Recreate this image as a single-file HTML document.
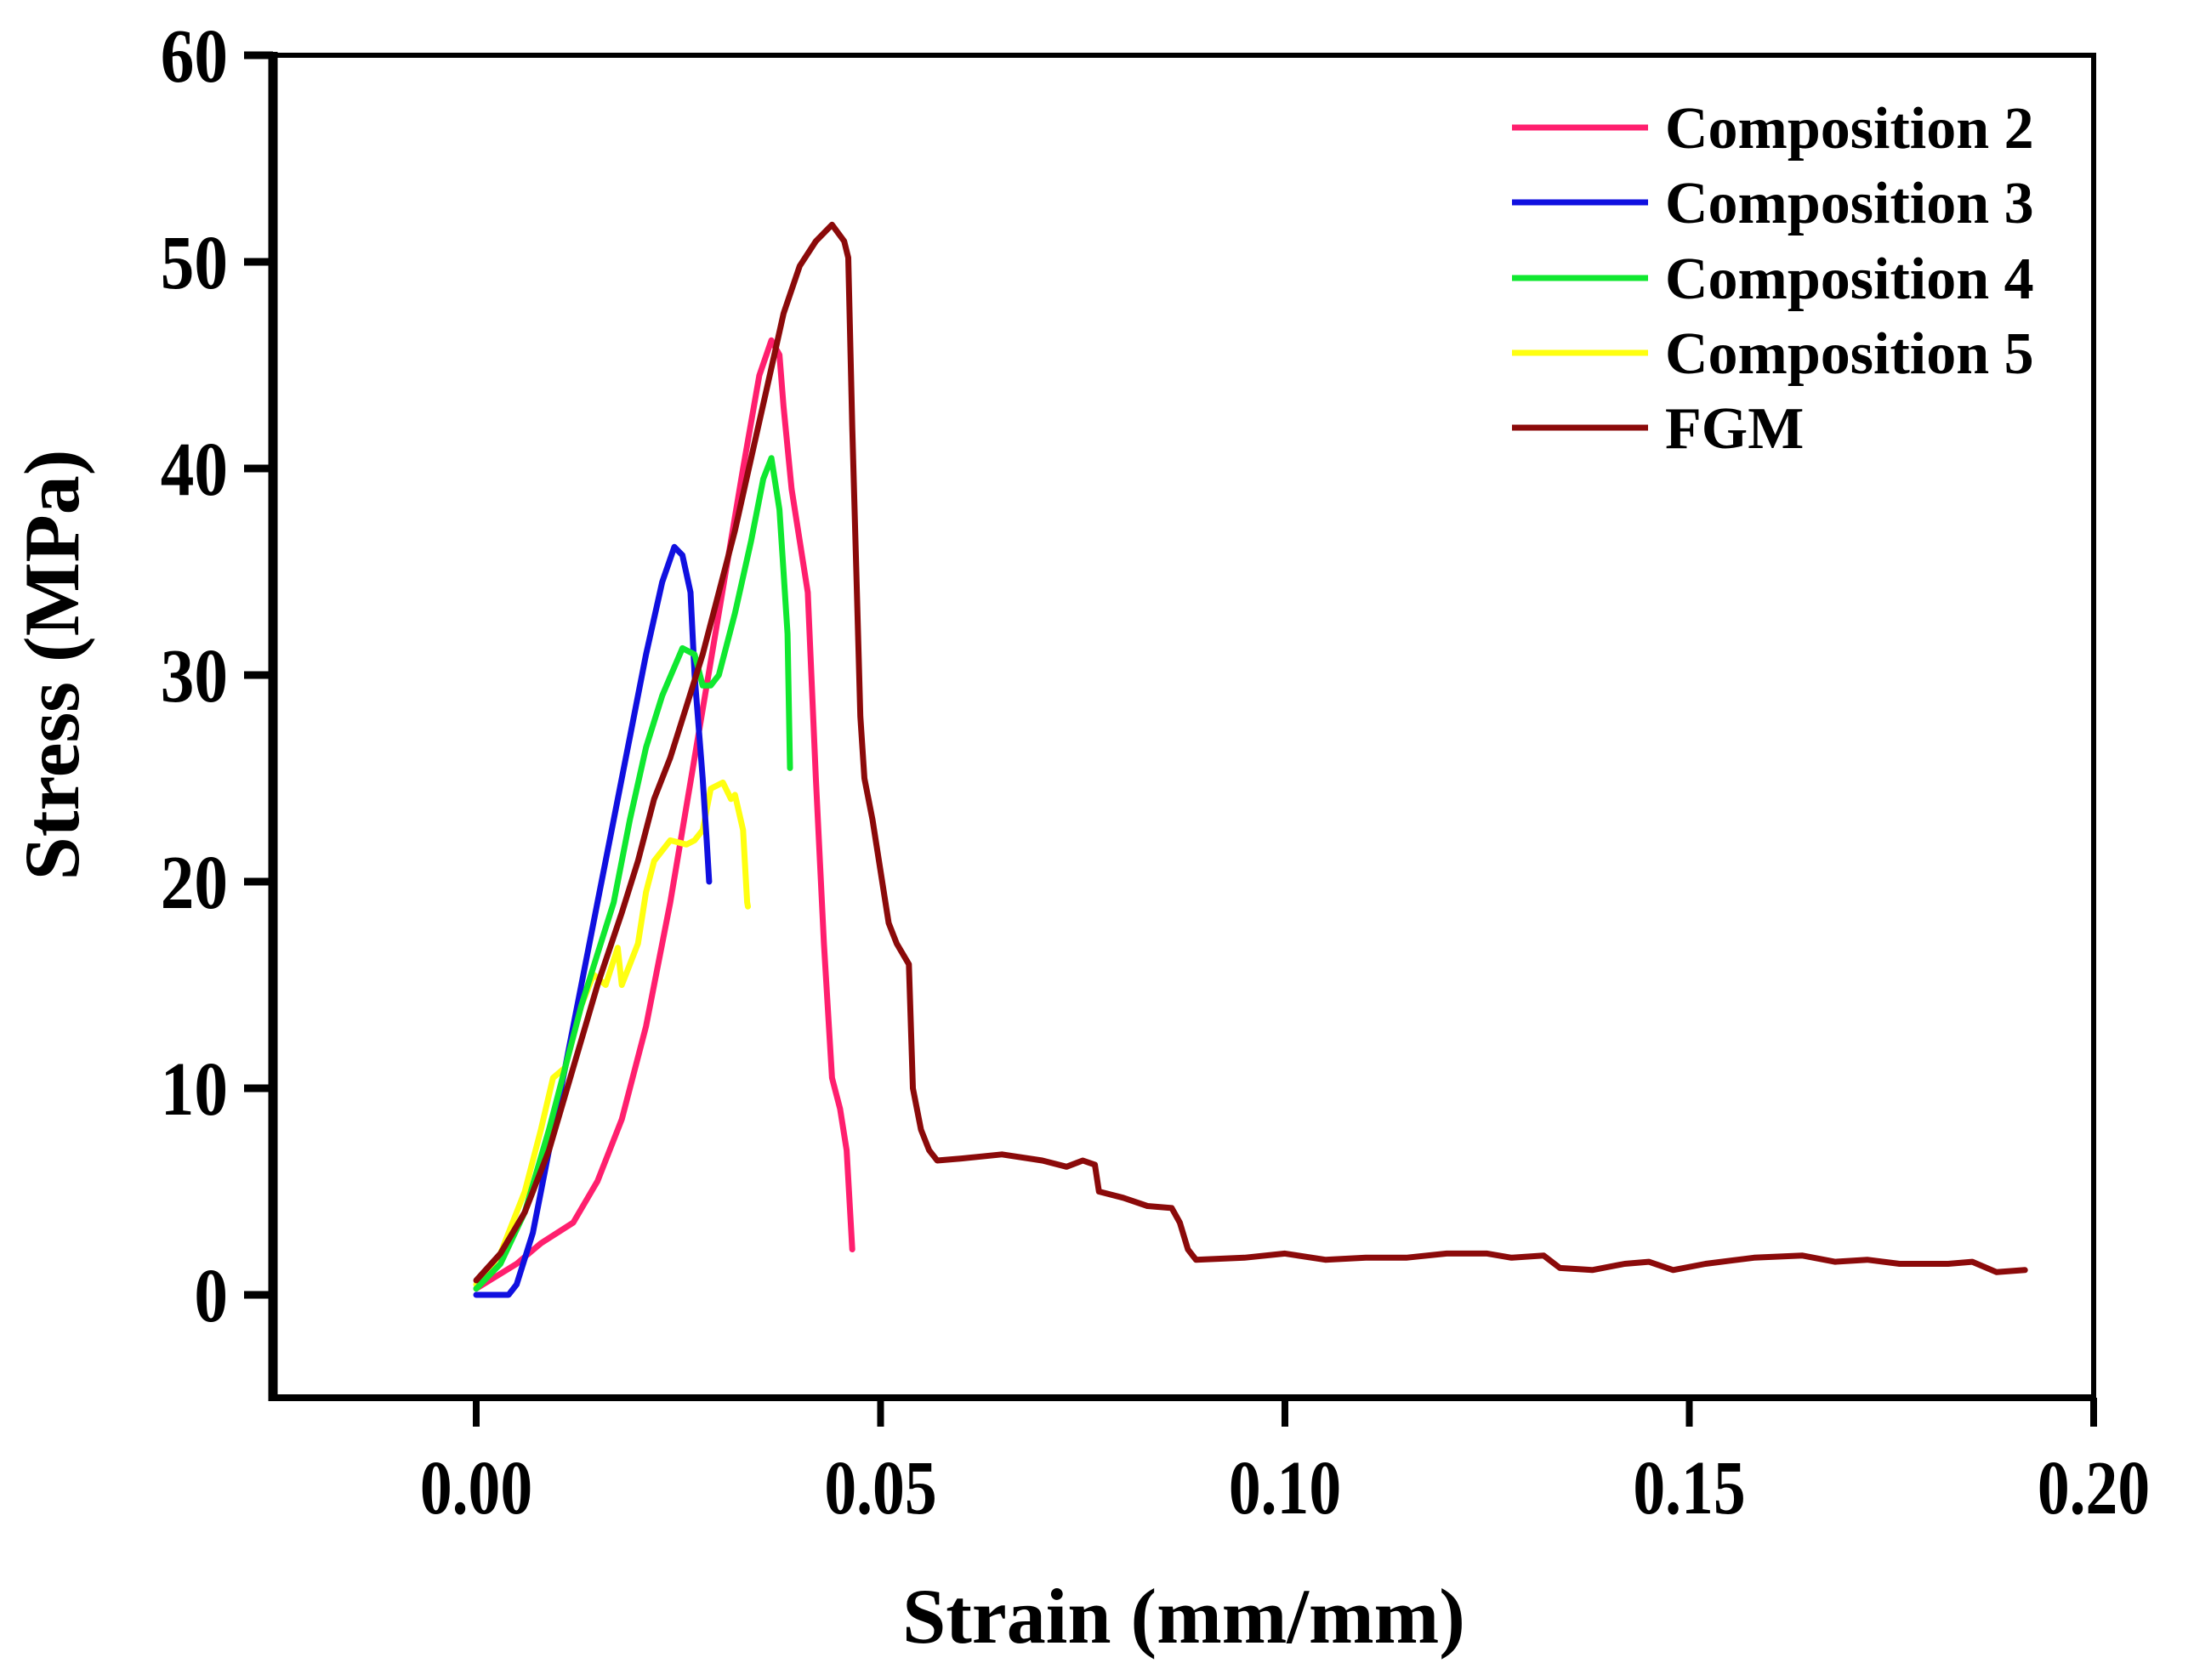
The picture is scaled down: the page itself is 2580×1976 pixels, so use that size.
<!DOCTYPE html>
<html><head><meta charset="utf-8"><style>
html,body{margin:0;padding:0;background:#fff;}
svg{display:block;}
text{font-family:"Liberation Serif",serif;font-weight:bold;fill:#000;}
</style></head><body>
<svg id="chart" width="2580" height="1976" viewBox="0 0 2580 1976" xmlns="http://www.w3.org/2000/svg">
<g id="plot"></g>
<g id="axes"></g>
<g id="legend"></g>
<text x="1392" y="1932" text-anchor="middle" font-size="92">Strain (mm/mm)</text>
<text transform="translate(92,782) rotate(-90)" text-anchor="middle" font-size="92">Stress (MPa)</text>
</svg>
<script>
const xTicks = [0.00, 0.05, 0.10, 0.15, 0.20];
const xTickLabels = ["0.00", "0.05", "0.10", "0.15", "0.20"];
const yTicks = [0, 10, 20, 30, 40, 50, 60];
const yTickLabels = ["0", "10", "20", "30", "40", "50", "60"];
const seriesNames = ["Composition 2", "Composition 3", "Composition 4", "Composition 5", "FGM"];
const seriesColors = ["#ff1f6e", "#1010e0", "#10e830", "#ffff10", "#8b0a0a"];

const comp2X = [0,0.005,0.008,0.012,0.015,0.018,0.021,0.024,0.027,0.030,0.033,0.035,0.0365,0.0375,0.038,0.039,0.040,0.041,0.042,0.043,0.044,0.045,0.0458,0.0465];
const comp2Y = [0.3,1.5,2.5,3.5,5.5,8.5,13,19,26,33,40,44.5,46.2,45.5,43,39,36.5,34,25,17,10.5,9,7,2.2];
const comp3X = [0,0.004,0.005,0.007,0.009,0.011,0.013,0.015,0.017,0.019,0.021,0.023,0.0245,0.0255,0.0265,0.027,0.028,0.0285,0.0288];
const comp3Y = [0,0,0.5,3,7,11,15,19,23,27,31,34.5,36.2,35.8,34,30,25,22,20];
const comp4X = [0,0.003,0.006,0.009,0.011,0.013,0.015,0.017,0.019,0.021,0.023,0.0255,0.027,0.028,0.029,0.030,0.032,0.034,0.0355,0.0365,0.0375,0.038,0.0385,0.0388];
const comp4Y = [0.3,1.5,4,8,11,14,16.5,19,23,26.5,29,31.3,31,29.5,29.5,30,33,36.5,39.5,40.5,38,35,32,25.5];
const comp5X = [0,0.003,0.006,0.008,0.0095,0.011,0.013,0.0145,0.016,0.0175,0.018,0.019,0.020,0.021,0.022,0.024,0.026,0.027,0.028,0.029,0.0305,0.0315,0.032,0.033,0.0335,0.0336];
const comp5Y = [0.5,2,5,8,10.5,11,14,15.5,15,16.8,15,16,17,19.5,21,22,21.8,22,22.5,24.5,24.8,24,24.2,22.5,19,18.8];
const fgmX = [0,0.003,0.006,0.009,0.012,0.015,0.018,0.020,0.022,0.024,0.026,0.028,0.030,0.032,0.034,0.036,0.038,0.040,0.042,0.044,0.0455,0.046,0.0465,0.047,0.0475,0.048,0.049,0.050,0.051,0.052,0.0535,0.054,0.055,0.056,0.057,0.060,0.065,0.070,0.073,0.075,0.0765,0.077,0.080,0.083,0.086,0.087,0.088,0.089,0.095,0.100,0.105,0.110,0.115,0.120,0.125,0.128,0.132,0.134,0.138,0.142,0.145,0.148,0.152,0.158,0.164,0.168,0.172,0.176,0.182,0.185,0.188,0.1915];
const fgmY = [0.7,2,4,7,11,15,18.5,21,24,26,28.5,31,34,37,40.5,44,47.5,49.8,51,51.8,51,50.2,42,35,28,25,23,20.5,18,17,16,10,8,7,6.5,6.6,6.8,6.5,6.2,6.5,6.3,5,4.7,4.3,4.2,3.5,2.2,1.7,1.8,2.0,1.7,1.8,1.8,2.0,2.0,1.8,1.9,1.3,1.2,1.5,1.6,1.2,1.5,1.8,1.9,1.6,1.7,1.5,1.5,1.6,1.1,1.2];

const seriesX = [comp2X, comp3X, comp4X, comp5X, fgmX];
const seriesY = [comp2Y, comp3Y, comp4Y, comp5Y, fgmY];
const seriesKeys = ["composition-2", "composition-3", "composition-4", "composition-5", "fgm"];

const X0 = 560, X1 = 2462, XMIN = 0, XMAX = 0.2;
const Y0 = 1523, Y60 = 65;
const LEFT = 321, RIGHT = 2462, TOP = 65, BOTTOM = 1644;
function sx(v){ return X0 + (v - XMIN) / (XMAX - XMIN) * (X1 - X0); }
function sy(v){ return Y0 - v / 60 * (Y0 - Y60); }

const NS = "http://www.w3.org/2000/svg";
function mk(tag, attrs, parent){
  const e = document.createElementNS(NS, tag);
  for (const k in attrs) e.setAttribute(k, attrs[k]);
  parent.appendChild(e);
  return e;
}
const plot = document.getElementById("plot");
const axes = document.getElementById("axes");
const legend = document.getElementById("legend");

const drawOrder = [0, 3, 1, 2, 4];
drawOrder.forEach(i => {
  const pts = seriesX[i].map((x, j) => sx(x).toFixed(1) + "," + sy(seriesY[i][j]).toFixed(1)).join(" ");
  const pl = mk("polyline", {points: pts, fill: "none", stroke: seriesColors[i], "stroke-width": 7, "stroke-linejoin": "round", "stroke-linecap": "round"}, plot);
  
  
});

const frame = mk("rect", {x: LEFT, y: TOP, width: RIGHT - LEFT, height: BOTTOM - TOP, fill: "none", stroke: "#000", "stroke-width": 6}, axes);


const yAxis = mk("line", {x1: LEFT, y1: TOP - 4, x2: LEFT, y2: BOTTOM + 4, stroke: "#000", "stroke-width": 11}, axes);


const xAxis = mk("line", {x1: LEFT - 5, y1: BOTTOM, x2: RIGHT + 3, y2: BOTTOM, stroke: "#000", "stroke-width": 8}, axes);



yTicks.forEach((v, i) => {
  const t = mk("line", {x1: LEFT - 34, y1: sy(v), x2: LEFT, y2: sy(v), stroke: "#000", "stroke-width": 9}, axes);
  
  
  const lb = mk("text", {transform: "translate(268," + (sy(v) + 31) + ") scale(0.88,1)", "text-anchor": "end", "font-size": 90}, axes);
  lb.textContent = yTickLabels[i];
  
  
});
xTicks.forEach((v, i) => {
  const t = mk("line", {x1: sx(v), y1: BOTTOM, x2: sx(v), y2: BOTTOM + 34, stroke: "#000", "stroke-width": 8}, axes);
  
  
  const lb = mk("text", {transform: "translate(" + sx(v) + ",1780) scale(0.84,1)", "text-anchor": "middle", "font-size": 90}, axes);
  lb.textContent = xTickLabels[i];
  
  
});

const legY = [150, 238, 327, 415, 503];
seriesNames.forEach((n, i) => {
  const g = mk("g", {}, legend);
  
  
  const ln = mk("line", {x1: 1778, y1: legY[i], x2: 1938, y2: legY[i], stroke: seriesColors[i], "stroke-width": 7}, g);
  
  
  const tx = mk("text", {x: 1958, y: legY[i] + 24, "font-size": 70}, g);
  tx.textContent = n;
  
  
});
</script>
</body></html>
